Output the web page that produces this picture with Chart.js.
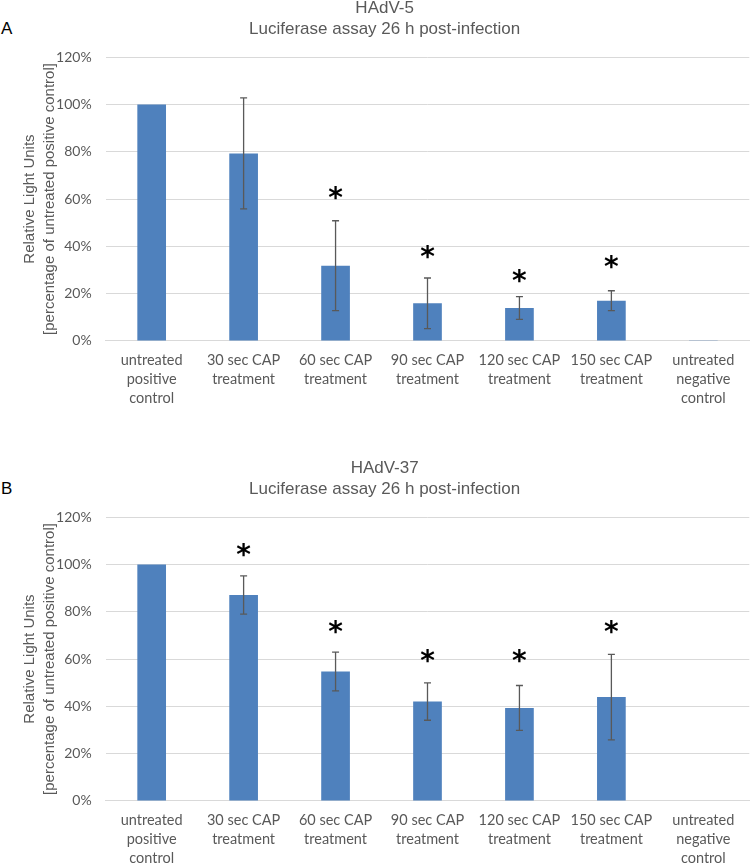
<!DOCTYPE html>
<html>
<head>
<meta charset="utf-8">
<script src="https://cdn.jsdelivr.net/npm/chart.js@4/dist/chart.umd.min.js"></script>
<style>
  html, body { margin: 0; padding: 0; background: #fff; }
  body { width: 750px; height: 864px; overflow: hidden; position: relative; }
  .panel { position: absolute; left: 0; width: 764px; height: 432px; }
  .tag { position: absolute; left: 1px; font: 17px "Liberation Sans", Arial, sans-serif; color: #000; }
</style>
</head>
<body>
<div class="tag" style="top:19px">A</div>
<div class="tag" style="top:479px">B</div>
<div class="panel" style="top:-5px"><canvas id="chartA" width="764" height="432"></canvas></div>
<div class="panel" style="top:455px"><canvas id="chartB" width="764" height="432"></canvas></div>
<script>
// categorias del eje x
const categories = [
    ['untreated', 'positive', 'control'],
    ['30 sec CAP', 'treatment'],
    ['60 sec CAP', 'treatment'],
    ['90 sec CAP', 'treatment'],
    ['120 sec CAP', 'treatment'],
    ['150 sec CAP', 'treatment'],
    ['untreated', 'negative', 'control']
];
const yTicks = [0, 20, 40, 60, 80, 100, 120];

// HAdV-5 (panel A)
const hadv5Values = [100, 79.3, 31.8, 15.9, 13.9, 17.0, 0.3];
const hadv5Errors = [0, 23.5, 19.0, 10.7, 4.8, 4.2, 0];
const hadv5Stars = [null, null, 62.5, 37.8, 27.6, 33.3, null];

// HAdV-37 (panel B)
const hadv37Values = [100, 87.1, 54.7, 42.0, 39.3, 43.9, 0];
const hadv37Errors = [0, 8.1, 8.2, 7.9, 9.5, 18.1, 0];
const hadv37Stars = [null, 105.9, 73.7, 61.3, 61.3, 73.7, null];

const grey = '#595959';

// barras de error + asteriscos
const extrasPlugin = {
    id: 'extras',
    afterDatasetsDraw(chart, args, opts) {
        const ctx = chart.ctx;
        const y = chart.scales.y;
        const bars = chart.getDatasetMeta(0).data;
        ctx.save();
        ctx.strokeStyle = grey;
        ctx.lineWidth = 1.3;
        bars.forEach((bar, i) => {
            const err = opts.errors[i];
            if (!err) return;
            const v = opts.values[i];
            const top = y.getPixelForValue(v + err);
            const bot = y.getPixelForValue(v - err);
            ctx.beginPath();
            ctx.moveTo(bar.x, top); ctx.lineTo(bar.x, bot);
            ctx.moveTo(bar.x - 3.5, top); ctx.lineTo(bar.x + 3.5, top);
            ctx.moveTo(bar.x - 3.5, bot); ctx.lineTo(bar.x + 3.5, bot);
            ctx.stroke();
        });
        ctx.fillStyle = '#000';
        ctx.font = 'bold 28px "DejaVu Sans", sans-serif';
        ctx.textAlign = 'center';
        ctx.textBaseline = 'alphabetic';
        const m = ctx.measureText('*');
        const shift = (m.actualBoundingBoxAscent - m.actualBoundingBoxDescent) / 2;
        bars.forEach((bar, i) => {
            const s = opts.stars[i];
            if (s == null) return;
            ctx.fillText('*', bar.x, y.getPixelForValue(s) + shift);
        });
        ctx.restore();
    }
};

function makeChart(id, name, values, errors, stars) {
    return new Chart(document.getElementById(id), {
        type: 'bar',
        data: {
            labels: categories,
            datasets: [{
                data: values,
                backgroundColor: '#4f81bd',
                barPercentage: 0.312,
                categoryPercentage: 1
            }]
        },
        options: {
            responsive: false,
            animation: false,
            layout: { padding: { left: 20, right: 14.7, top: 0, bottom: 8.7 } },
            plugins: {
                legend: { display: false },
                tooltip: { enabled: false },
                title: {
                    display: true,
                    text: [name, 'Luciferase assay 26 h post-infection'],
                    color: grey,
                    font: { family: '"Liberation Sans", Arial, sans-serif', size: 17, weight: 'normal', lineHeight: 1.24 },
                    padding: { top: 2.5, bottom: 17.5 }
                },
                extras: { values: values, errors: errors, stars: stars }
            },
            scales: {
                x: {
                    grid: { display: false, drawTicks: false },
                    border: { color: '#d9d9d9', width: 1 },
                    ticks: {
                        color: grey,
                        padding: 10,
                        maxRotation: 0,
                        autoSkip: false,
                        font: { family: 'Lato, sans-serif', size: 14.5, lineHeight: 1.32 }
                    }
                },
                y: {
                    min: 0,
                    max: 120,
                    afterBuildTicks: axis => { axis.ticks = yTicks.map(v => ({ value: v })); },
                    afterFit: axis => { axis.width = 85.7; },
                    grid: { color: '#d9d9d9', lineWidth: 1, drawTicks: false },
                    border: { display: false },
                    ticks: {
                        color: grey,
                        padding: 14,
                        font: { family: 'Lato, sans-serif', size: 14 },
                        callback: v => v + '%'
                    },
                    title: {
                        display: true,
                        text: ['Relative Light Units', '[percentage of untreated positive control]'],
                        color: grey,
                        font: { family: '"Liberation Sans", Arial, sans-serif', size: 15, lineHeight: 1.33 },
                        padding: { top: 0, bottom: 0 }
                    }
                }
            }
        },
        plugins: [extrasPlugin]
    });
}

makeChart('chartA', 'HAdV-5', hadv5Values, hadv5Errors, hadv5Stars);
makeChart('chartB', 'HAdV-37', hadv37Values, hadv37Errors, hadv37Stars);
</script>
</body>
</html>
